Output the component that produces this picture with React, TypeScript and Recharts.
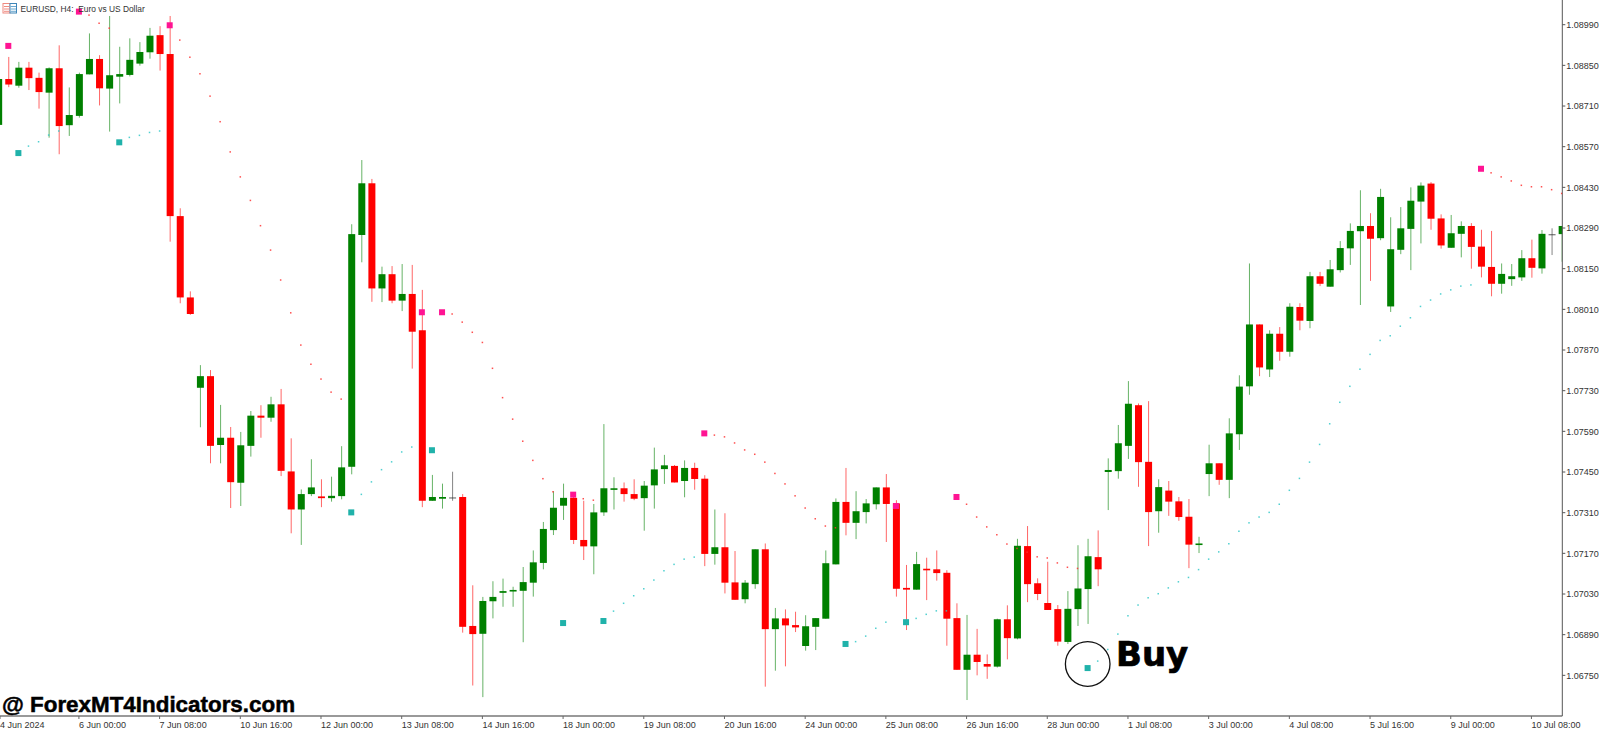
import React from 'react'
import { ComposedChart, Bar, Line, XAxis, YAxis } from 'recharts'

// all prices in points (1/100000), first bar sits just left of the plot
const firstBar = -1

const opens = [
  108645, 108803, 108780, 108842, 108807, 108756, 108840, 108644, 108676, 108819, 108872, 108770, 108811,
  108817, 108856, 108895, 108954, 108889, 108331, 108051, 107740, 107780, 107543, 107568, 107413, 107540,
  107644, 107637, 107683, 107452, 107321, 107374, 107366, 107360, 107367, 107468, 108266, 108444, 108082,
  108131, 108040, 108063, 107938, 107351, 107358, 107362, 107364, 106920, 106893, 107005, 107034, 107039,
  107041, 107069, 107137, 107250, 107334, 107361, 107216, 107194, 107311, 107389, 107394, 107374, 107360,
  107404, 107460, 107471, 107419, 107464, 107427, 107168, 107191, 107070, 107012, 107064, 107184, 106909,
  106946, 106923, 106851, 106917, 106945, 107132, 107347, 107275, 107312, 107339, 107397, 107342, 107051,
  107045, 107117, 107115, 107103, 106947, 106769, 106821, 106789, 106780, 106943, 106877, 107195, 107067,
  106999, 106978, 106865, 106978, 107047, 107157, 107450, 107453, 107540, 107680, 107485, 107315, 107386,
  107349, 107296, 107200, 107443, 107480, 107423, 107580, 107745, 107958, 107803, 107926, 107864, 108018,
  107970, 108124, 108088, 108145, 108220, 108279, 108297, 108255, 108020, 108215, 108287, 108381, 108443,
  108323, 108222, 108270, 108297, 108226, 108156, 108098, 108114, 108120, 108186, 108151, 108268, 108269
]
const highs = [
  108813, 108879, 108862, 108862, 108825, 108843, 108919, 108774, 108825, 108960, 108885, 109020, 108914,
  108943, 108930, 108979, 108985, 109020, 108358, 108072, 107818, 107801, 107681, 107605, 107588, 107660,
  107680, 107709, 107736, 107566, 107390, 107494, 107425, 107434, 107539, 108303, 108524, 108459, 108157,
  108159, 108166, 108163, 108077, 107440, 107410, 107451, 107374, 107060, 107020, 107074, 107083, 107055,
  107123, 107180, 107278, 107384, 107410, 107367, 107351, 107340, 107615, 107432, 107414, 107425, 107419,
  107534, 107509, 107474, 107490, 107482, 107439, 107321, 107308, 107178, 107078, 107184, 107204, 106982,
  106977, 106969, 106957, 106947, 107180, 107359, 107464, 107384, 107357, 107397, 107443, 107353, 107130,
  107175, 107155, 107180, 107112, 106998, 106958, 106910, 106822, 106945, 106991, 107220, 107264, 107084,
  107141, 106992, 107040, 107198, 107220, 107249, 107497, 107612, 107763, 107686, 107694, 107425, 107419,
  107364, 107357, 107227, 107544, 107480, 107635, 107783, 108168, 107958, 107938, 107949, 108031, 108031,
  108139, 108139, 108180, 108245, 108306, 108420, 108341, 108425, 108327, 108362, 108430, 108447, 108448,
  108337, 108335, 108313, 108307, 108284, 108280, 108168, 108166, 108214, 108250, 108283, 108289, 108297
]
const lows = [
  108645, 108775, 108773, 108765, 108701, 108601, 108544, 108607, 108670, 108819, 108712, 108622, 108719,
  108812, 108849, 108873, 108832, 108243, 108031, 107991, 107604, 107480, 107480, 107326, 107333, 107503,
  107568, 107623, 107436, 107239, 107199, 107367, 107329, 107348, 107356, 107442, 108172, 108036, 108035,
  108031, 108004, 107806, 107329, 107351, 107324, 107351, 106897, 106715, 106675, 106946, 106986, 106986,
  106864, 107021, 107115, 107233, 107285, 107202, 107147, 107098, 107299, 107321, 107348, 107353, 107248,
  107324, 107409, 107414, 107363, 107389, 107126, 107131, 107032, 107010, 106998, 107048, 106711, 106766,
  106781, 106899, 106835, 106837, 106945, 107132, 107232, 107219, 107273, 107321, 107209, 107021, 106906,
  107045, 107009, 107076, 106852, 106769, 106665, 106750, 106738, 106777, 106805, 106874, 107002, 107009,
  106975, 106852, 106858, 106920, 106927, 107057, 107319, 107427, 107495, 107399, 107195, 107241, 107299,
  107282, 107119, 107171, 107367, 107406, 107360, 107526, 107716, 107780, 107777, 107833, 107847, 107938,
  107945, 108090, 108088, 108137, 108163, 108025, 108108, 108248, 108001, 108200, 108145, 108237, 108284,
  108219, 108222, 108189, 108150, 108120, 108055, 108064, 108091, 108108, 108119, 108133, 108197, 108174
]
const closes = [
  108803, 108784, 108842, 108806, 108758, 108840, 108641, 108679, 108820, 108872, 108771, 108816, 108820,
  108869, 108896, 108952, 108889, 108331, 108051, 107994, 107780, 107540, 107568, 107415, 107542, 107644,
  107637, 107683, 107454, 107321, 107374, 107397, 107360, 107368, 107466, 108269, 108444, 108082, 108131,
  108040, 108063, 107933, 107351, 107364, 107364, 107362, 106917, 106892, 107006, 107020, 107040, 107044,
  107071, 107139, 107254, 107327, 107361, 107216, 107194, 107311, 107394, 107394, 107374, 107358, 107403,
  107459, 107473, 107414, 107464, 107426, 107168, 107191, 107069, 107010, 107069, 107184, 106909, 106946,
  106922, 106915, 106919, 106947, 107136, 107347, 107275, 107315, 107342, 107397, 107340, 107048, 107045,
  107133, 107114, 107102, 106945, 106769, 106821, 106796, 106780, 106943, 106878, 107196, 107064, 107030,
  106975, 106866, 106979, 107049, 107160, 107115, 107457, 107549, 107685, 107484, 107312, 107398, 107348,
  107295, 107200, 107204, 107480, 107423, 107583, 107744, 107958, 107810, 107926, 107864, 108019, 107971,
  108124, 108098, 108148, 108221, 108280, 108297, 108253, 108397, 108217, 108289, 108384, 108436, 108322,
  108230, 108272, 108297, 108225, 108157, 108098, 108132, 108124, 108186, 108153, 108270, 108268, 108297
]

// parabolic sar style dots, [bar, price]
const sarAbove = [
  [8, 109023], [9, 108995], [10, 108978], [17, 108937], [18, 108878], [19, 108821], [20, 108744], [21, 108656],
  [22, 108552], [23, 108466], [24, 108385], [25, 108298], [26, 108214], [27, 108111], [28, 107998], [29, 107887],
  [30, 107821], [31, 107770], [32, 107725], [33, 107701], [44, 107994], [45, 107966], [46, 107931], [47, 107896],
  [48, 107807], [49, 107706], [50, 107632], [51, 107556], [52, 107490], [53, 107427], [54, 107382], [57, 107358],
  [58, 107353], [70, 107577], [71, 107571], [72, 107550], [73, 107526], [74, 107511], [75, 107484], [76, 107445],
  [77, 107409], [78, 107368], [79, 107326], [80, 107289], [81, 107264], [82, 107258], [95, 107339], [96, 107295],
  [97, 107261], [98, 107234], [99, 107202], [100, 107187], [101, 107174], [102, 107158], [103, 107154],
  [104, 107137], [105, 107122], [106, 107118], [147, 108480], [148, 108466], [149, 108452], [150, 108437],
  [151, 108432], [152, 108432], [153, 108422], [154, 108409]
]
const sarBelow = [
  [2, 108572], [3, 108587], [4, 108610], [5, 108624], [12, 108602], [13, 108609], [14, 108619], [15, 108624],
  [35, 107373], [36, 107416], [37, 107458], [38, 107485], [39, 107519], [40, 107536], [60, 106971], [61, 106998],
  [62, 107024], [63, 107048], [64, 107078], [65, 107110], [66, 107132], [67, 107150], [68, 107157], [84, 106866],
  [85, 106885], [86, 106912], [87, 106933], [90, 106946], [91, 106960], [92, 106972], [93, 106972], [108, 106799],
  [109, 106839], [110, 106892], [111, 106955], [112, 106992], [113, 107017], [114, 107031], [115, 107051],
  [116, 107072], [117, 107087], [118, 107114], [119, 107150], [120, 107175], [121, 107203], [122, 107246],
  [123, 107275], [124, 107295], [125, 107311], [126, 107339], [127, 107387], [128, 107428], [129, 107484],
  [130, 107545], [131, 107616], [132, 107690], [133, 107745], [134, 107804], [135, 107855], [136, 107903],
  [137, 107919], [138, 107952], [139, 107981], [140, 108020], [141, 108042], [142, 108063], [143, 108077],
  [144, 108090], [145, 108094]
]
const sellStarts = [
  [0, 108917], [7, 109035], [16, 108988], [41, 108000], [43, 108000], [56, 107372], [69, 107583], [88, 107333],
  [94, 107364], [146, 108494]
]
const buyStarts = [
  [1, 108548], [11, 108585], [34, 107311], [42, 107525], [55, 106930], [59, 106937], [83, 106858], [89, 106933],
  [107, 106775]
]

const priceTicks = [
  108990, 108850, 108710, 108570, 108430, 108290, 108150, 108010, 107870, 107730, 107590, 107450, 107310,
  107170, 107030, 106890, 106750
]
const timeTicks = [-0.82, 7, 15, 23, 31, 39, 47, 55, 63, 71, 79, 87, 95, 103, 111, 119, 127, 135, 143, 151]
const timeLabels = [
  '4 Jun 2024', '6 Jun 00:00', '7 Jun 08:00', '10 Jun 16:00', '12 Jun 00:00', '13 Jun 08:00', '14 Jun 16:00',
  '18 Jun 00:00', '19 Jun 08:00', '20 Jun 16:00', '24 Jun 00:00', '25 Jun 08:00', '26 Jun 16:00', '28 Jun 00:00',
  '1 Jul 08:00', '3 Jul 00:00', '4 Jul 08:00', '5 Jul 16:00', '9 Jul 00:00', '10 Jul 08:00'
]

const lookup = (list: number[][], bar: number) => {
  const hit = list.find(v => v[0] === bar)
  return hit ? hit[1] : null
}

const rows = opens.map((open, i) => {
  const bar = i + firstBar
  return {
    bar,
    open,
    high: highs[i],
    low: lows[i],
    close: closes[i],
    above: lookup(sarAbove, bar),
    below: lookup(sarBelow, bar),
    sell: lookup(sellStarts, bar),
    buy: lookup(buyStarts, bar)
  }
})

const axisFont = '"Liberation Sans", sans-serif'

function Candle(props: any) {
  const { x, y, width, height, payload } = props
  const { open, close, high, low } = payload
  const color = open === close ? '#333333' : close > open ? '#008000' : '#ff0000'
  const perPoint = height / (high - low)
  const top = y + (high - Math.max(open, close)) * perPoint
  const bodyH = Math.max(Math.abs(open - close) * perPoint, open === close ? 0.8 : 1.6)
  const mid = x + width / 2
  return (
    <g>
      <rect x={mid - 0.5} y={y} width={1} height={height} fill={color} opacity={0.6} />
      <rect x={mid - 3.5} y={top} width={7} height={bodyH} fill={color} />
    </g>
  )
}

const squareDot = (size: number, fill: string, opacity = 1) => (p: any) => {
  if (p.cy == null || p.value == null) return <g key={p.key} />
  return (
    <rect
      key={p.key}
      x={p.cx - size / 2}
      y={p.cy - size / 2}
      width={size}
      height={size}
      fill={fill}
      opacity={opacity}
    />
  )
}

function TimeTick(props: any) {
  const { x, y, payload } = props
  const label = timeLabels[timeTicks.indexOf(payload.value)]
  return (
    <g>
      <line x1={x} x2={x} y1={y} y2={y + 3} stroke="#666666" />
      <text x={x} y={y + 12} fontSize={9} fontFamily={axisFont} fill="#333333" textAnchor="start">
        {label}
      </text>
    </g>
  )
}

export default function App() {
  return (
    <div style={{ position: 'absolute', left: 0, top: 0, width: 1600, height: 731, overflow: 'hidden' }}>
      <ComposedChart
        width={1600}
        height={731}
        data={rows}
        margin={{ top: 0, right: 0, bottom: 0, left: 0 }}
      >
        <XAxis
          xAxisId={0}
          type="number"
          dataKey="bar"
          domain={[-0.823, 154.06]}
          allowDataOverflow
          ticks={timeTicks}
          interval={0}
          height={15}
          tickSize={0}
          tickMargin={0}
          tick={<TimeTick />}
          axisLine={{ stroke: '#999999', strokeWidth: 2 }}
        />
        <YAxis
          yAxisId={0}
          orientation="right"
          type="number"
          domain={[106610, 109075]}
          allowDataOverflow
          ticks={priceTicks}
          interval={0}
          width={37.7}
          tickSize={3}
          tickMargin={1}
          tickFormatter={v => (v / 100000).toFixed(5)}
          tick={{ fontSize: 9, fontFamily: axisFont, fill: '#333333' }}
          tickLine={{ stroke: '#555555' }}
          axisLine={{ stroke: '#555555' }}
        />
        <Bar
          dataKey={(d: any) => [d.low, d.high]}
          barSize={7}
          shape={<Candle />}
          isAnimationActive={false}
        />
        <Line dataKey="above" stroke="none" dot={squareDot(1.5, '#ff3030', 0.85)} activeDot={false} isAnimationActive={false} />
        <Line dataKey="below" stroke="none" dot={squareDot(1.5, '#30c8c8', 0.85)} activeDot={false} isAnimationActive={false} />
        <Line dataKey="sell" stroke="none" dot={squareDot(6, '#ff1493')} activeDot={false} isAnimationActive={false} />
        <Line dataKey="buy" stroke="none" dot={squareDot(6, '#20b2aa')} activeDot={false} isAnimationActive={false} />
      </ComposedChart>
      <svg width={1600} height={731} style={{ position: 'absolute', left: 0, top: 0, pointerEvents: 'none' }}>
        <rect x={3} y={3.5} width={7} height={9.5} fill="#ffffff" stroke="#ef8a80" strokeWidth={1} />
        <rect x={10} y={3.5} width={6.5} height={9.5} fill="#ffffff" stroke="#3f86b8" strokeWidth={1} />
        <path d="M4 6.5h5.5M4 9h5.5M4 11.3h5.5" stroke="#ef8a80" strokeWidth={1} />
        <path d="M10.5 6.5h5.5M10.5 9h5.5M10.5 11.3h5.5" stroke="#6aa8d0" strokeWidth={1} />
        <text x={20.5} y={12} fontSize={8.4} fontFamily={axisFont} fill="#333333" xmlSpace="preserve">
          EURUSD, H4:  Euro vs US Dollar
        </text>
        <circle cx={1087.7} cy={664} r={22.3} fill="none" stroke="#111111" strokeWidth={1.3} />
        <text
          x={1116}
          y={665.5}
          fontSize={34}
          fontWeight="bold"
          fontFamily='"DejaVu Sans", sans-serif'
          fill="#000000"
          stroke="#000000"
          strokeWidth={0.7}
        >
          Buy
        </text>
        <text
          x={2}
          y={712.3}
          fontSize={22.4}
          fontWeight="bold"
          fontFamily={axisFont}
          fill="#000000"
          stroke="#000000"
          strokeWidth={0.5}
        >
          @ ForexMT4Indicators.com
        </text>
      </svg>
    </div>
  )
}
